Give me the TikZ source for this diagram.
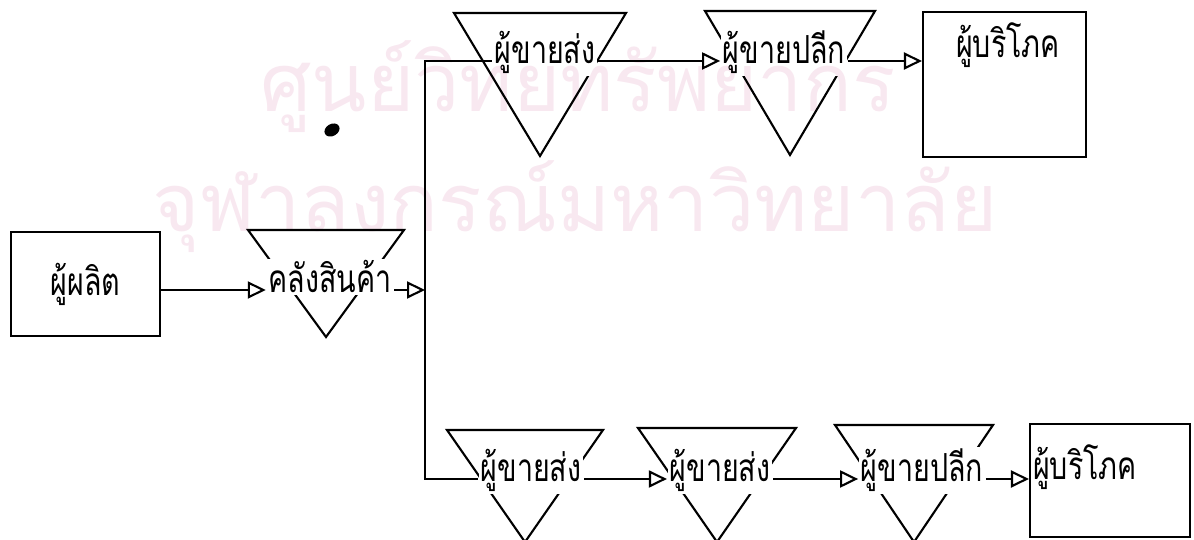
\documentclass[tikz,border=0pt]{standalone}
\usepackage{fontspec}
\newfontfamily\thaifont[Script=Thai, FakeStretch=0.74]{Loma}
\newfontfamily\thaiwmfont[Script=Thai]{Loma}
\usetikzlibrary{arrows.meta, calc}
\definecolor{wmpink}{RGB}{248,232,240}

\begin{document}
\begin{tikzpicture}[
    x=0.1mm, y=-0.1mm,
    line width=0.6pt,
    font=\thaifont\fontsize{11}{13}\selectfont,
    box/.style={rectangle, draw=black, line width=0.6pt, inner sep=0pt},
    lbl/.style={fill=white, inner sep=0.5pt, anchor=base},
    arr/.style={-{Triangle[open, length=1.8mm, width=1.7mm]}},
    wmark/.style={text=wmpink, font=\thaiwmfont\fontsize{23}{27}\selectfont, anchor=base}
]
\useasboundingbox (0,0) rectangle (1194,540);

% ---------------- Triangles ----------------
\foreach \cx/\ty/\hw/\ay in {326/230/78/337, 540/13/86/156, 790/11/85/155,
                             525/430/78/542, 717/428/79/542, 914/425/79/542}
    \draw (\cx-\hw,\ty) -- (\cx+\hw,\ty) -- (\cx,\ay) -- cycle;

% ---------------- Boxes ----------------
\node[box, minimum width=14.9mm, minimum height=10.4mm] (prod) at (85.5,284) {ผู้ผลิต};
\node[box, minimum width=16.3mm, minimum height=14.5mm] (cons1) at (1004.5,84.5) {};
\node[box, minimum width=16mm, minimum height=11.3mm] (cons2) at (1110,480.5) {};

% ---------------- Labels ----------------
\node[lbl] (wh) at (330,293) {คลังสินค้า};
\node[lbl] (ws1) at (545,64) {ผู้ขายส่ง};
\node[lbl] (rt1) at (784,64) {ผู้ขายปลีก};
\node[lbl, fill=none] (cons1t) at (1008,58) {ผู้บริโภค};
\node[lbl] (ws2) at (531,482) {ผู้ขายส่ง};
\node[lbl] (ws3) at (720,482) {ผู้ขายส่ง};
\node[lbl] (rt2) at (922,482) {ผู้ขายปลีก};
\node[lbl, fill=none] (cons2t) at (1085,480) {ผู้บริโภค};

\coordinate (trunk) at (425,290);

% ---------------- Arrows ----------------
\draw[arr] ([yshift=.3mm]prod.east |- wh.base) -- ([yshift=.3mm]wh.base west);
\draw[arr] ([yshift=.3mm]wh.base east) -- ([yshift=.3mm]wh.base east -| trunk);
\draw ([yshift=.3mm]ws1.base west) -| (trunk) |- ([yshift=.3mm]ws2.base west);
\draw[arr] ([yshift=.3mm]ws1.base east) -- ([yshift=.3mm]rt1.base west);
\draw[arr] ([yshift=.3mm]rt1.base east) -- ([yshift=.3mm]rt1.base east -| cons1.west);
\draw[arr] ([yshift=.3mm]ws2.base east) -- ([yshift=.3mm]ws3.base west);
\draw[arr] ([yshift=.3mm]ws3.base east) -- ([yshift=.3mm]rt2.base west);
\draw[arr] ([yshift=.3mm]rt2.base east) -- ([yshift=.3mm]rt2.base east -| cons2.west);

\fill[rotate around={30:(332,130)}] (332,130) ellipse (0.8mm and 0.6mm);

% ---------------- Watermark ----------------
\begin{scope}[blend mode=multiply]
\node[wmark] (wm1) at (578,112) {ศูนย์วิทยทรัพยากร};
\node[wmark] (wm2) at (575,232) {จุฬาลงกรณ์มหาวิทยาลัย};
\end{scope}

\end{tikzpicture}
\end{document}
